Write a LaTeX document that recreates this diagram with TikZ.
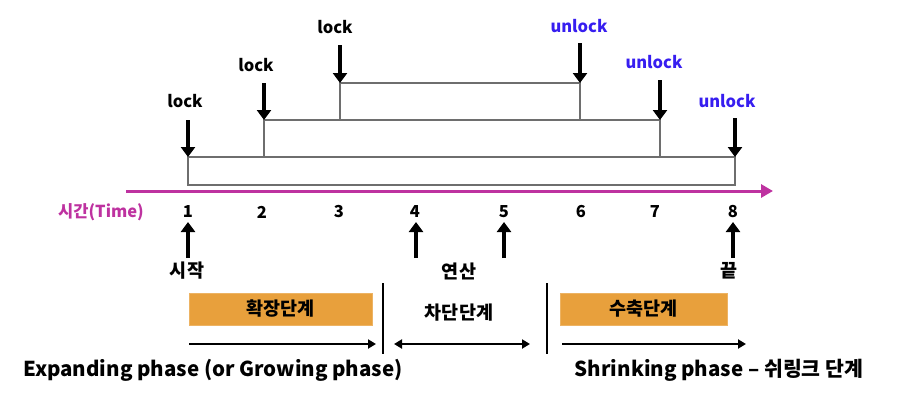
\documentclass[tikz,border=0pt]{standalone}
\usepackage{fontspec}
\setmainfont{Noto Sans CJK KR}
\usetikzlibrary{arrows.meta}
\definecolor{axiscol}{RGB}{190,50,160}
\definecolor{unlockcol}{RGB}{55,30,240}
\definecolor{boxgray}{RGB}{110,110,110}
\definecolor{phaseorange}{RGB}{232,160,60}
\tikzset{
  lbl/.style={font=\bfseries\fontsize{16.5}{16.5}\selectfont, inner sep=0pt},
  klbl/.style={font=\bfseries\fontsize{18.5}{18.5}\selectfont, inner sep=0pt},
  ulbl/.style={lbl, text=unlockcol},
  num/.style={font=\bfseries\fontsize{16.5}{16.5}\selectfont, inner sep=0pt},
  big/.style={font=\bfseries\fontsize{20.5}{20.5}\selectfont, inner sep=0pt},
  barbox/.style={draw=boxgray, line width=1.4pt},
  downarr/.style={line width=3.5pt, -{Triangle[length=10pt,width=14pt]}},
  hbar/.style={line width=2pt, -{Triangle[length=8pt,width=9pt]}},
  hbar2/.style={line width=2pt, {Triangle[length=8pt,width=9pt]}-{Triangle[length=8pt,width=9pt]}},
  phasebox/.style={fill=phaseorange, draw=phaseorange!80!white, line width=0.8pt, inner sep=0pt},
}
\begin{document}
\begin{tikzpicture}[x=1pt,y=-1pt]
\useasboundingbox (0,0) rectangle (897,415);
% boxes
\draw[barbox] (188,157) rectangle (735,185);
\draw[barbox] (264,120) rectangle (660,157);
\draw[barbox] (340,83) rectangle (580,120);
% lock arrows
\coordinate (l1s) at (188,120); \coordinate (l1e) at (188,157);
\coordinate (l2s) at (264,83);  \coordinate (l2e) at (264,120);
\coordinate (l3s) at (340,45);  \coordinate (l3e) at (340,83);
\coordinate (u1s) at (580,43);  \coordinate (u1e) at (580,83);
\coordinate (u2s) at (660,80);  \coordinate (u2e) at (660,120);
\coordinate (u3s) at (735,118); \coordinate (u3e) at (735,157);
\foreach \a in {l1,l2,l3,u1,u2,u3} {\draw[downarr] (\a s) -- (\a e);}
\node[lbl] (lk1) at (185,101) {lock};
\node[lbl] (lk2) at (256,65) {lock};
\node[lbl] (lk3) at (335,27) {lock};
\node[ulbl] (ul1) at (579,26) {unlock};
\node[ulbl] (ul2) at (654,62) {unlock};
\node[ulbl] (ul3) at (727,101) {unlock};
% time axis
\coordinate (ax0) at (126,191);
\coordinate (ax1) at (773,191);
\draw[axiscol, line width=3pt, -{Triangle[length=12pt,width=13pt]}] (ax0) -- (ax1);
\node[num, text=axiscol] (tl) at (101,212) {시간(Time)};
\foreach \n/\x in {1/188,2/262,3/339,4/415,5/504,6/581,7/655,8/733}
  {\node[num] (n\n) at (\x,212) {\n};}
% up arrows
\coordinate (s1) at (188,258); \coordinate (e1) at (188,222);
\coordinate (s4) at (416,258); \coordinate (e4) at (416,222);
\coordinate (s5) at (504,258); \coordinate (e5) at (504,222);
\coordinate (s8) at (733,258); \coordinate (e8) at (733,222);
\foreach \a in {1,4,5,8} {\draw[downarr] (s\a) -- (e\a);}
\node[klbl] (start) at (187,271) {시작};
\node[klbl] (op) at (459,271) {연산};
\node[klbl] (end) at (729,271) {끝};
% phase boxes
\node[phasebox, minimum width=183pt, minimum height=32pt, klbl] (grow) at (280.5,309) {확장단계};
\node[phasebox, minimum width=167pt, minimum height=32pt, klbl] (shrink) at (643.5,309) {수축단계};
\node[klbl] (lockp) at (459,313) {차단단계};
% separators
\coordinate (v1a) at (383,283); \coordinate (v1b) at (383,354);
\coordinate (v2a) at (547,283); \coordinate (v2b) at (547,354);
\draw[line width=2.2pt] (v1a) -- (v1b);
\draw[line width=2.2pt] (v2a) -- (v2b);
% phase arrows
\coordinate (ga) at (189,344); \coordinate (gb) at (376,344);
\coordinate (ma) at (394,344); \coordinate (mb) at (530,344);
\coordinate (sa) at (562,344); \coordinate (sb) at (746,344);
\draw[hbar] (ga) -- (gb);
\draw[hbar2] (ma) -- (mb);
\draw[hbar] (sa) -- (sb);
\node[big] (gtxt) at (213,370) {Expanding phase (or Growing phase)};
\node[big] (stxt) at (719,370) {Shrinking phase – 쉬링크 단계};
\end{tikzpicture}
\end{document}
